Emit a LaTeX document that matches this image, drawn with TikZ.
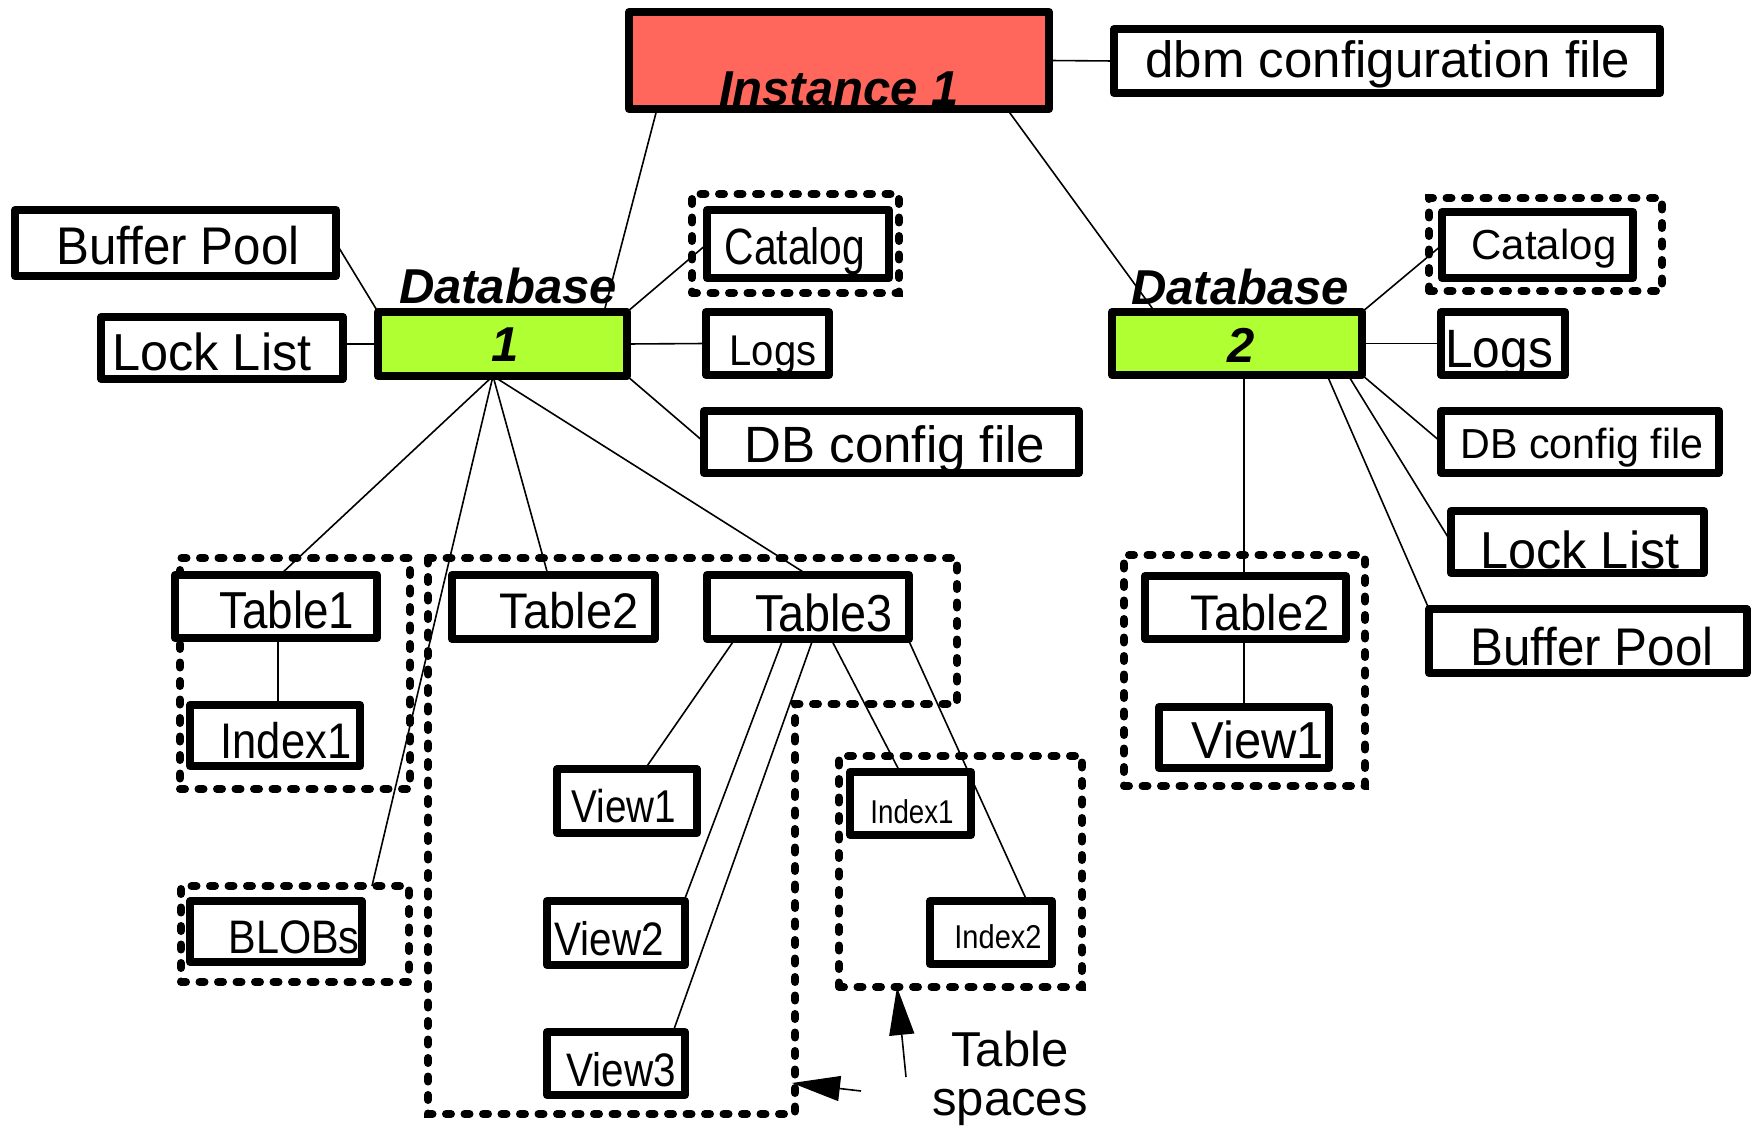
\documentclass[tikz,border=0pt]{standalone}
\usepackage{fontspec}
\setmainfont{Liberation Sans}
\usepackage{graphicx}
\usetikzlibrary{arrows.meta,calc}
\definecolor{instred}{RGB}{255,102,92}
\definecolor{dbgreen}{RGB}{175,255,51}
\newcommand\tx[3]{\fontsize{#1}{#1}\selectfont\scalebox{#2}[1]{#3}}
% #1 line width, #2 style, #3 name, #4-#7 outer corners
\newcommand\mkbox[7][8]{\node[#2,minimum width={#6-#4-#1},minimum height={#7-#5-#1}] (#3) at ({(#4+#6)/2},{(#5+#7)/2}) {};}
\begin{document}
\begin{tikzpicture}[x=1pt,y=-1pt,
  box/.style={draw, line width=8pt, line join=round, inner sep=0pt, outer sep=0pt, fill=white},
  dbox/.style={draw, line width=8pt, dash pattern=on 5pt off 13.5pt, line cap=round, inner sep=0pt, outer sep=0pt},
  dline/.style={line width=8pt, dash pattern=on 5pt off 13.5pt, line cap=round},
  conn/.style={line width=1.6pt},
  lbl/.style={anchor=base, inner sep=0pt, outer sep=0pt},
  arr/.style={line width=1.6pt, -{Triangle[length=48pt,width=25pt]}}]
\useasboundingbox (0,0) rectangle (1754,1134);
% dashed groups
\mkbox[8]{dbox}{dcat1}{688}{190}{903}{297}
\mkbox[8]{dbox}{dt1}{176}{554}{414}{793}
\mkbox[8]{dbox}{dblob}{177}{882}{413}{986}
\mkbox[8]{dbox}{didx}{835}{752}{1086}{991}
\mkbox[8]{dbox}{dcat2}{1425}{194}{1666}{295}
\mkbox[8]{dbox}{dt2r}{1120}{551}{1369}{790}
\draw[dline] (428,558) -- (957,558) -- (957,704) -- (795,704) -- (795,1114) -- (428,1114) -- cycle;
% boxes
\mkbox{box,fill=instred}{inst}{625}{8}{1053}{113}
\mkbox{box}{dbm}{1110}{25}{1664}{97}
\mkbox{box,fill=dbgreen}{db1}{374}{308}{631}{380}
\mkbox{box}{bp1}{11}{206}{340}{280}
\mkbox{box}{ll1}{97}{313}{347}{383}
\mkbox{box}{cat1}{703}{206}{893}{282}
\mkbox{box}{logs1}{702}{308}{833}{379}
\mkbox{box}{dbc1}{700}{407}{1083}{477}
\mkbox{box}{t1}{171}{571}{381}{642}
\mkbox{box}{i1}{186}{701}{364}{770}
\mkbox{box}{t2}{448}{571}{659}{643}
\mkbox{box}{t3}{703}{571}{913}{643}
\mkbox{box}{v1}{553}{765}{701}{837}
\mkbox{box}{v2}{543}{897}{689}{969}
\mkbox{box}{v3}{543}{1028}{689}{1099}
\mkbox{box}{ii1}{846}{768}{975}{839}
\mkbox{box}{ii2}{926}{897}{1056}{968}
\mkbox{box}{blob}{186}{897}{366}{966}
\mkbox{box,fill=dbgreen}{db2}{1108}{308}{1366}{379}
\mkbox{box}{cat2}{1438}{208}{1637}{282}
\mkbox{box}{logs2}{1437}{308}{1569}{379}
\mkbox{box}{dbc2}{1437}{407}{1723}{477}
\mkbox{box}{ll2}{1447}{507}{1708}{577}
\mkbox{box}{bp2}{1425}{605}{1751}{677}
\mkbox{box}{t2r}{1141}{572}{1350}{643}
\mkbox{box}{v1r}{1155}{703}{1333}{772}
% connectors
\draw[conn] (inst.east) -- (dbm.west);
\draw[conn] (inst.south -| 657,0) -- (db1.north -| 604,0);
\draw[conn] (inst.south -| 1007,0) -- (db2.north -| 1155,0);
\draw[conn] (bp1.east) -- (db1.north west);
\draw[conn] (ll1.east |- db1.west) -- (db1.west);
\draw[conn] (cat1.west) -- (db1.north east);
\draw[conn] (db1.east) -- (logs1.west);
\draw[conn] (db1.south east) -- (dbc1.west);
\draw[conn] (db1.south -| 493,0) -- (t1.north -| 280,0);
\draw[conn] (db1.south -| 493,0) -- (dblob.north -| 372,0);
\draw[conn] (db1.south -| 493,0) -- (t2.north -| 548,0);
\draw[conn] (db1.south -| 493,0) -- (t3.north -| 808,0);
\draw[conn] (t1.south -| 278,0) -- (i1.north -| 278,0);
\draw[conn] (t3.south -| 735,0) -- (v1.north -| 645,0);
\draw[conn] (t3.south -| 783,0) -- (v2.north -| 684,0);
\draw[conn] (t3.south -| 813,0) -- (v3.north -| 673,0);
\draw[conn] (t3.south -| 831,0) -- (ii1.north -| 900,0);
\draw[conn] (t3.south -| 908,0) -- (ii2.north -| 1027,0);
\draw[conn] (db2.north east) -- (cat2.west);
\draw[conn] (db2.east) -- (logs2.west);
\draw[conn] (db2.south east) -- (dbc2.west);
\draw[conn] (db2.south -| 1348,0) -- (ll2.west);
\draw[conn] (db2.south -| 1327,0) -- (bp2.north west);
\draw[conn] (db2.south -| 1244,0) -- (t2r.north -| 1244,0);
\draw[conn] (t2r.south -| 1244,0) -- (v1r.north -| 1244,0);
% labels
\node[lbl] (tinst) at (839,106) {\bfseries\itshape\tx{49}{1}{Instance 1}};
\node[lbl] (tdbm) at (1388,78) {\tx{51}{1}{dbm configuration file}};
\node[lbl] (tdb1) at (508,303) {\bfseries\itshape\tx{49}{1}{Database}};
\node[lbl] (tn1) at (505,361) {\bfseries\itshape\tx{49}{1}{1}};
\node[lbl] (tdb2) at (1240,304) {\bfseries\itshape\tx{49}{1}{Database}};
\node[lbl] (tn2) at (1241,362) {\bfseries\itshape\tx{49}{1}{2}};
\node[lbl] (tbp1) at (178,265) {\tx{53}{0.93}{Buffer Pool}};
\node[lbl] (tll1) at (212,370) {\tx{52}{0.97}{Lock List}};
\node[lbl] (tcat1) at (795,265) {\tx{51}{0.8}{Catalog}};
\node[lbl] (tlogs1) at (773,365) {\tx{43}{0.93}{Logs}};
\node[lbl] (tdbc1) at (895,462) {\tx{51}{1}{DB config file}};
\node[lbl] (tt1) at (287,628) {\tx{52}{0.88}{Table1}};
\node[lbl] (ti1) at (286,758) {\tx{50}{0.87}{Index1}};
\node[lbl] (tt2) at (569,628) {\tx{50}{0.94}{Table2}};
\node[lbl] (tt3) at (824,631) {\tx{52}{0.9}{Table3}};
\node[lbl] (tv1) at (624,822) {\tx{46}{0.84}{View1}};
\node[lbl] (tv2) at (609,955) {\tx{47}{0.86}{View2}};
\node[lbl] (tv3) at (621,1086) {\tx{47}{0.86}{View3}};
\node[lbl] (tii1) at (912,823) {\tx{33}{0.84}{Index1}};
\node[lbl] (tii2) at (998,948) {\tx{33}{0.88}{Index2}};
\node[lbl] (tblob) at (294,953) {\tx{47}{0.88}{BLOBs}};
\node[lbl] (tcat2) at (1544,260) {\tx{42}{1}{Catalog}};
\node[lbl] (tlogs2) at (1499,367) {\tx{54}{0.92}{Logs}};
\node[lbl] (tdbc2) at (1582,458) {\tx{42}{0.98}{DB config file}};
\node[lbl] (tll2) at (1580,568) {\tx{52}{0.97}{Lock List}};
\node[lbl] (tbp2) at (1592,665) {\tx{53}{0.93}{Buffer Pool}};
\node[lbl] (tt2r) at (1260,630) {\tx{50}{0.94}{Table2}};
\node[lbl] (tv1r) at (1258,758) {\tx{52}{0.94}{View1}};
\node[anchor=north, inner sep=0pt, align=center, font=\fontsize{49}{49}\selectfont] (tts) at (1010,1031) {Table\\spaces};
% arrows
\coordinate (a1s) at (906,1077);
\coordinate (a2s) at (861,1091);
\coordinate (bigedge) at (792,1083);
\draw[arr] (a1s) -- (didx.south -| 897,0);
\draw[arr] (a2s) -- (bigedge);
\end{tikzpicture}
\end{document}
